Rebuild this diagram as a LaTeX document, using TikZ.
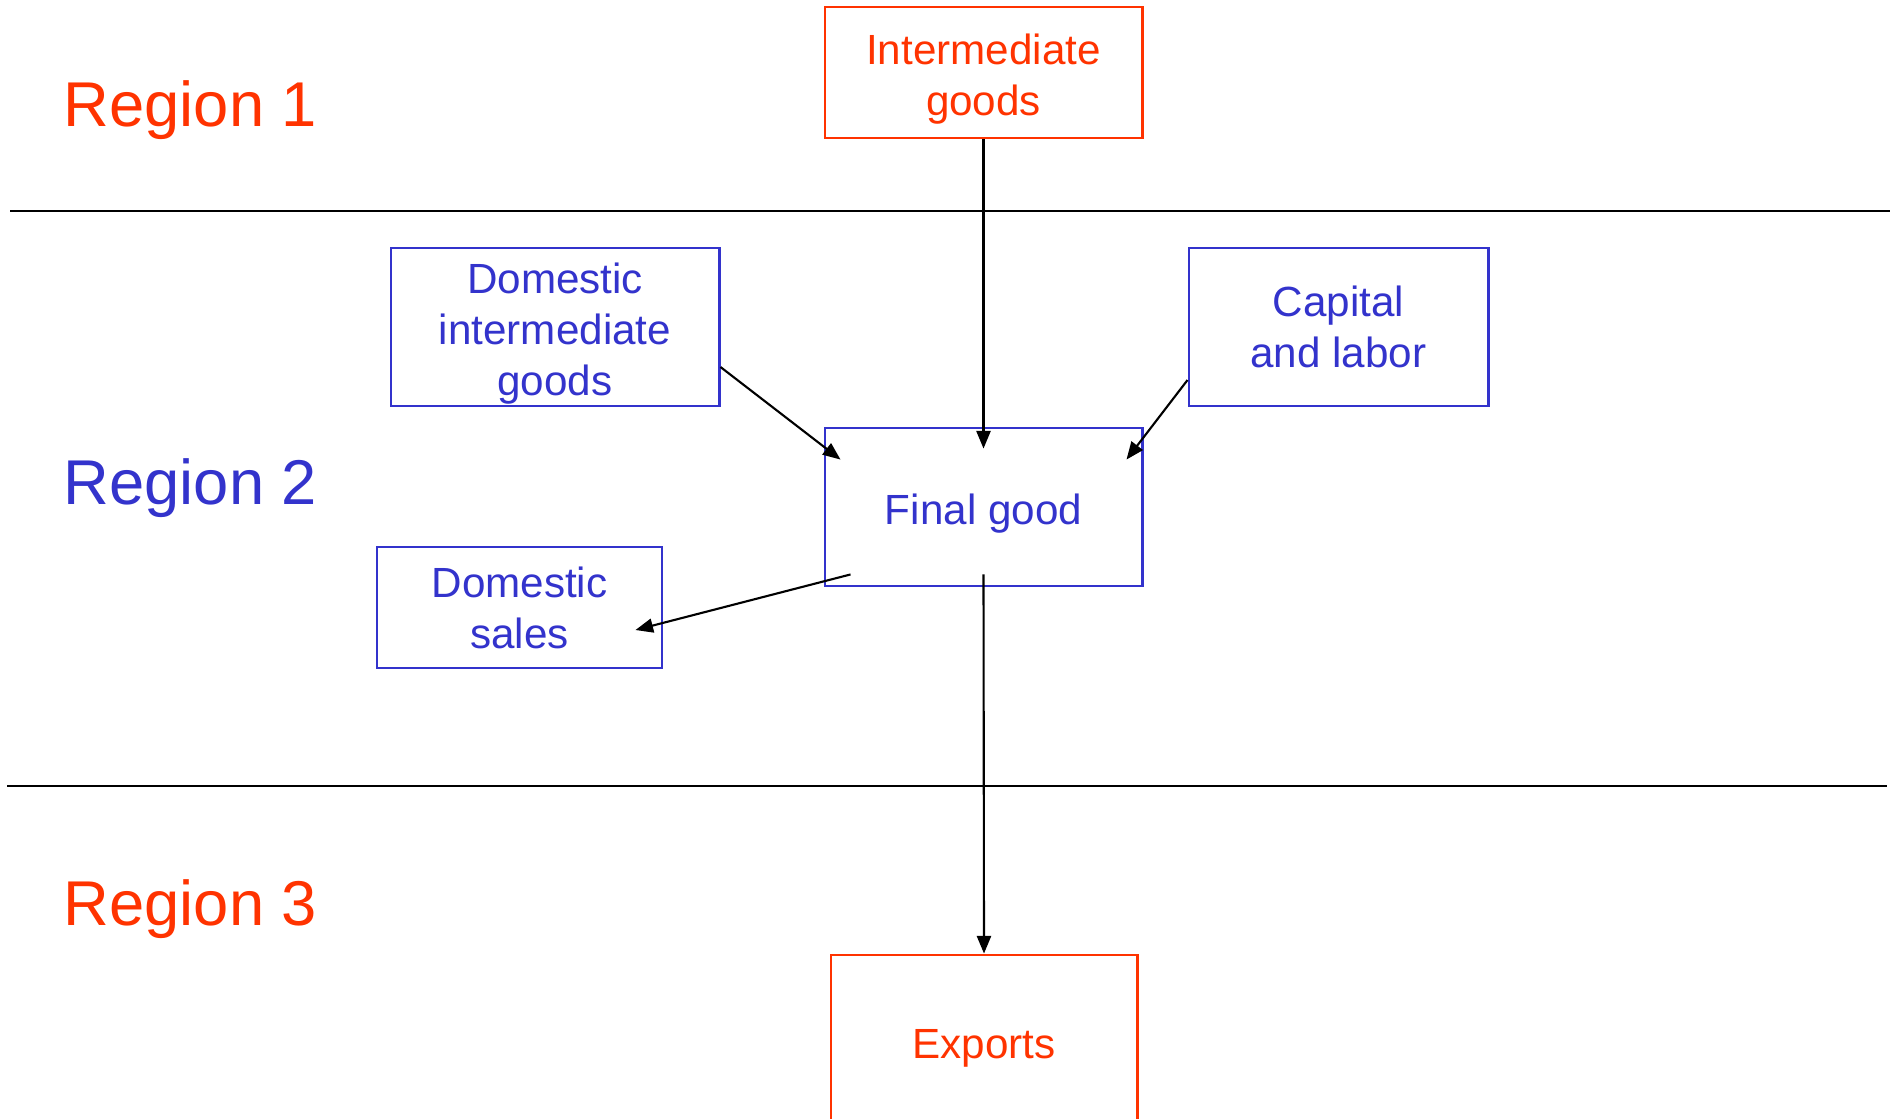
\documentclass[tikz,border=0pt]{standalone}
\usepackage{fontspec}
\setmainfont{Liberation Sans}
\usetikzlibrary{arrows.meta, calc, positioning}
\definecolor{regred}{HTML}{FF3300}
\definecolor{regblue}{HTML}{3333CC}
\newcommand{\topstrut}{\rule{0pt}{12.2pt}}

\begin{document}
\begin{tikzpicture}[x=0.01cm, y=-0.01cm,
    redbox/.style={rectangle, draw=regred, text=regred, line width=0.8pt, align=center, inner sep=0pt, font=\fontsize{12}{14.5}\selectfont},
    bluebox/.style={rectangle, draw=regblue, text=regblue, line width=0.8pt, align=center, inner sep=0pt, font=\fontsize{12}{14.5}\selectfont},
    regionlabel/.style={anchor=base west, inner sep=0pt, font=\fontsize{18}{22}\selectfont},
    flow/.style={-{Triangle[length=5pt, width=4pt]}, line width=0.6pt},
    ]
    \useasboundingbox (0,0) rectangle (1894,1118);
    \clip (0,0) rectangle (1894,1118);

    %Regions
    \node[regionlabel, text=regred]  (region1) at (63,126) {Region 1};
    \node[regionlabel, text=regblue] (region2) at (63,504) {Region 2};
    \node[regionlabel, text=regred]  (region3) at (63,925) {Region 3};
    \draw[line width=0.7pt] (10,211) -- (1890,211);
    \draw[line width=0.7pt] (7,786) -- (1887,786);

    %Nodes
    \node[redbox, minimum width=3.17cm, minimum height=1.31cm]  (intgoods) at (983.5,72.5) {\topstrut Intermediate\\goods};
    \node[bluebox, minimum width=3.28cm, minimum height=1.58cm] (domint)   at (555,327)    {\topstrut Domestic\\intermediate\\goods};
    \node[bluebox, minimum width=2.99cm, minimum height=1.58cm] (caplab)   at (1338.5,327) {Capital\\and labor};
    \node[bluebox, minimum width=3.17cm, minimum height=1.58cm] (final)    at (983.5,507)  {\topstrut Final good};
    \node[bluebox, minimum width=2.85cm, minimum height=1.21cm] (domsales) at (519.5,607.5) {Domestic\\sales};
    \node[redbox, minimum width=3.06cm, minimum height=1.72cm]  (exports)  at (984,1041)   {\topstrut Exports};

    %Lines
    \draw[flow] (intgoods.south) -- ([yshift=-0.22cm]final.north);
    \draw[flow] ([yshift=-0.4cm]domint.east) -- ([shift={(0.17cm,-0.33cm)}]final.north west);
    \draw[flow] ([yshift=-0.53cm]caplab.west) -- ([shift={(-0.17cm,-0.33cm)}]final.north east);
    \draw[flow] ([shift={(0.27cm,0.13cm)}]final.south west) -- ([shift={(-0.28cm,-0.225cm)}]domsales.east);
    \draw[flow] ([yshift=0.13cm]final.south) -- (exports.north);
\end{tikzpicture}
\end{document}
